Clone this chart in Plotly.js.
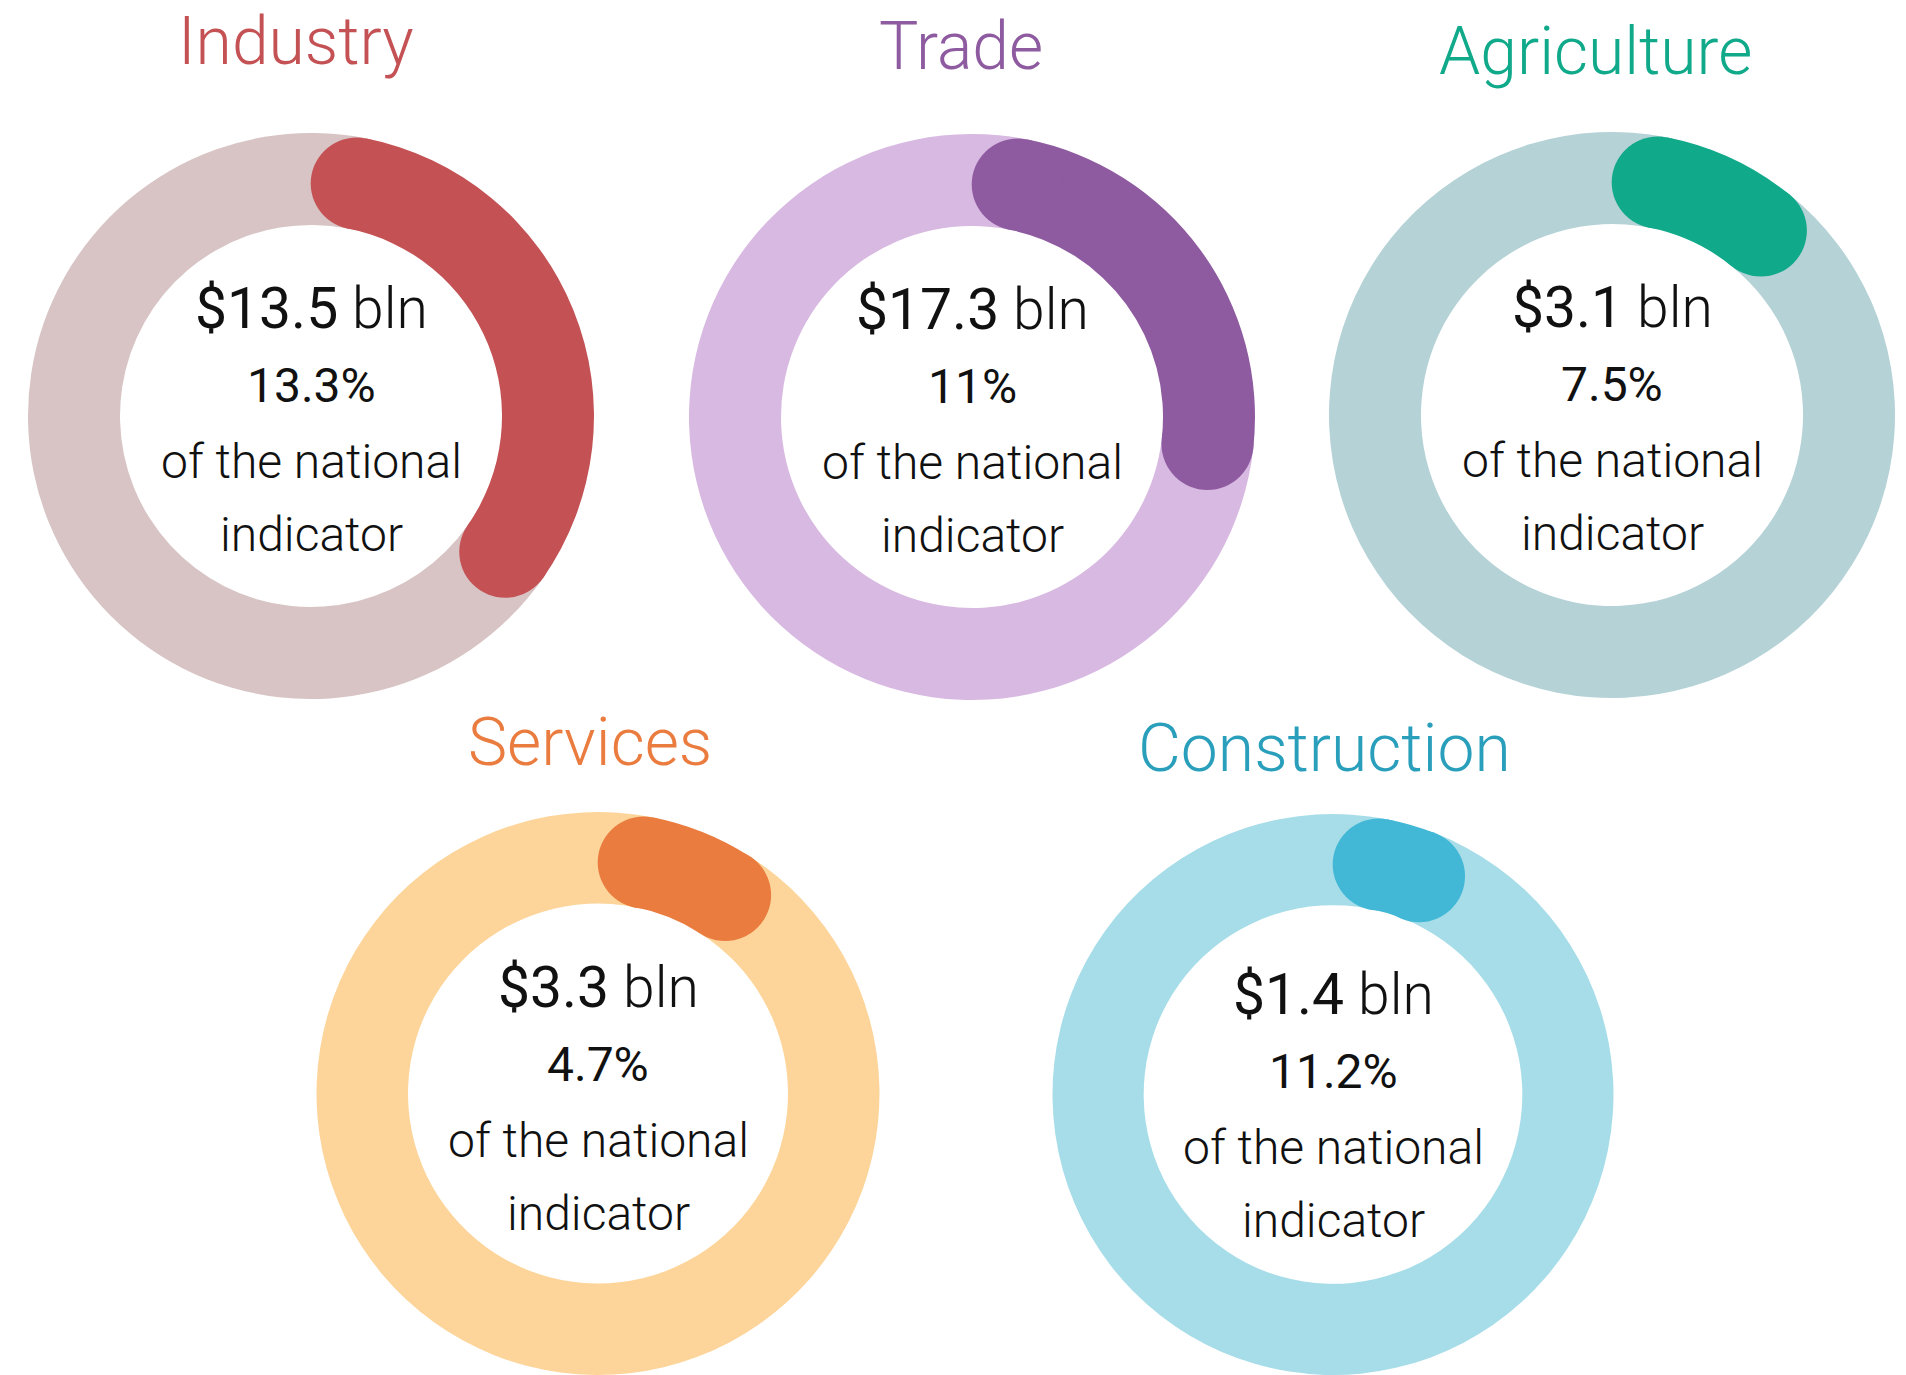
<!DOCTYPE html>
<html>
<head>
<meta charset="utf-8">
<script src="https://cdn.plot.ly/plotly-3.0.1.min.js"></script>
<style>
  html, body { margin: 0; padding: 0; background: #ffffff; }
  #chart { width: 1906px; height: 1375px; }
</style>
</head>
<body>
<div id="chart"></div>
<script>
// ---- data ----
const sectors = ['Industry', 'Trade', 'Agriculture', 'Services', 'Construction'];
const amountLabels = ['$13.5', '$17.3', '$3.1', '$3.3', '$1.4'];
const amountUnit = 'bln';
const shareLabels = ['13.3%', '11%', '7.5%', '4.7%', '11.2%'];
const noteLines = ['of the national', 'indicator'];
// visible share of each ring taken by the highlighted arc
const arcShare = [0.378, 0.299, 0.139, 0.121, 0.090];

// ---- styling / layout ----
const arcColors = ['#c45255', '#8e5aa0', '#10a98a', '#ea7c3f', '#42b8d6'];
const ringColors = ['#d8c4c4', '#d8b9e2', '#b5d2d7', '#fdd59a', '#a6dde9'];
const titleColors = ['#c45255', '#8e5aa0', '#10a98a', '#ea7c3f', '#2a9fbb'];

const W = 1906, H = 1375;
const centers = [[311, 416], [972, 417], [1612, 415], [598, 1095], [1333, 1097]];
const titlePos = [[296, 65], [961, 70], [1595, 75], [590, 766], [1324, 772]];
const textShift = [0, 0, 0, 0, 5];
const R_OUT = 283, R_IN = 191;
const R_MID = (R_OUT + R_IN) / 2, BAND = R_OUT - R_IN;
const CAP_DEG = (BAND / 2) / R_MID * 180 / Math.PI;

const FONT = 'Roboto, "Open Sans", sans-serif';
const clamp = v => Math.max(0, Math.min(1, v));

const traces = [{type: 'scatter', x: [], y: [], showlegend: false, hoverinfo: 'skip'}];
const shapes = [];
const annotations = [];

sectors.forEach((name, i) => {
  const [cx, cy] = centers[i];
  const sliceFrac = arcShare[i] - 2 * CAP_DEG / 360;
  traces.push({
    type: 'pie',
    values: [sliceFrac, 1 - sliceFrac],
    labels: [name, name + ' rest'],
    sort: false,
    direction: 'clockwise',
    rotation: CAP_DEG,
    hole: R_IN / R_OUT,
    marker: {colors: [arcColors[i], ringColors[i]], line: {width: 0}},
    textinfo: 'none',
    hoverinfo: 'skip',
    showlegend: false,
    domain: {
      x: [clamp((cx - R_OUT) / W), clamp((cx + R_OUT) / W)],
      y: [clamp(1 - (cy + R_OUT) / H), clamp(1 - (cy - R_OUT) / H)]
    }
  });
  // rounded caps at both ends of the highlighted arc
  const angles = [CAP_DEG, 360 * arcShare[i] - CAP_DEG];
  angles.forEach(a => {
    const t = a * Math.PI / 180;
    const px = cx + R_MID * Math.sin(t);
    const py = cy - R_MID * Math.cos(t);
    shapes.push({
      type: 'circle', xref: 'x', yref: 'y', layer: 'above',
      x0: px - BAND / 2, x1: px + BAND / 2,
      y0: py - BAND / 2, y1: py + BAND / 2,
      fillcolor: arcColors[i], line: {width: 0}
    });
  });
  // title
  const tfs = 66;
  annotations.push({
    xref: 'x', yref: 'y', x: titlePos[i][0], y: titlePos[i][1] - 0.35 * tfs,
    xanchor: 'center', yanchor: 'middle', showarrow: false,
    text: name,
    font: {family: FONT, size: tfs, color: titleColors[i], weight: 300}
  });
  // centre texts
  const dy = textShift[i];
  annotations.push({
    xref: 'x', yref: 'y', x: cx, y: cy - 108 + dy,
    xanchor: 'center', yanchor: 'middle', showarrow: false,
    text: amountLabels[i] + '<span style="font-weight:300"> ' + amountUnit + '</span>',
    font: {family: FONT, size: 57, color: '#111111', weight: 400}
  });
  annotations.push({
    xref: 'x', yref: 'y', x: cx, y: cy - 31 + dy,
    xanchor: 'center', yanchor: 'middle', showarrow: false,
    text: shareLabels[i],
    font: {family: FONT, size: 48, color: '#111111', weight: 400}
  });
  noteLines.forEach((line, k) => {
    annotations.push({
      xref: 'x', yref: 'y', x: cx, y: cy + (k === 0 ? 45 : 118) + dy,
      xanchor: 'center', yanchor: 'middle', showarrow: false,
      text: line,
      font: {family: FONT, size: 48, color: '#111111', weight: 300}
    });
  });
});

const layout = {
  width: W, height: H,
  margin: {l: 0, r: 0, t: 0, b: 0, pad: 0},
  paper_bgcolor: '#ffffff', plot_bgcolor: 'rgba(0,0,0,0)',
  showlegend: false,
  xaxis: {range: [0, W], visible: false, fixedrange: true},
  yaxis: {range: [H, 0], visible: false, fixedrange: true},
  shapes: shapes,
  annotations: annotations
};

Plotly.newPlot('chart', traces, layout, {staticPlot: true, displayModeBar: false});
</script>
</body>
</html>
